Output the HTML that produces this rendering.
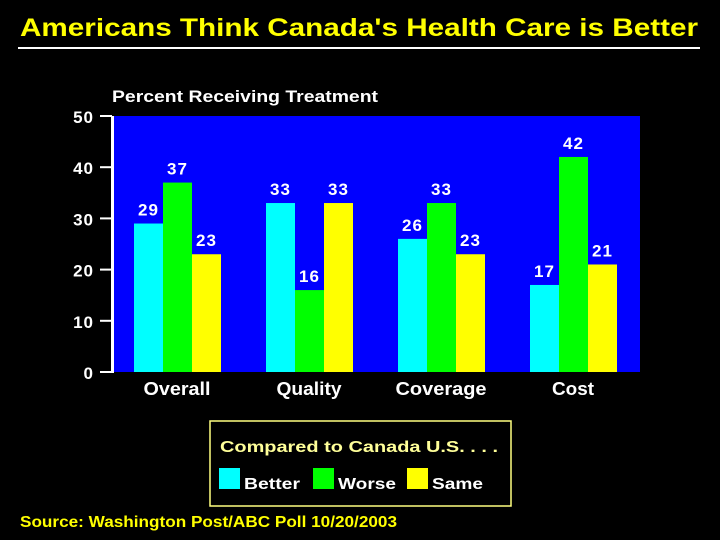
<!DOCTYPE html>
<html><head><meta charset="utf-8"><style>
body{margin:0;background:#000;width:720px;height:540px;overflow:hidden}
svg{display:block}
text{font-family:"Liberation Sans",sans-serif;font-weight:bold}
</style></head><body>
<svg id="c" width="720" height="540">
<text x="20" y="36" fill="#ffff00" font-size="25" textLength="678" lengthAdjust="spacingAndGlyphs">Americans Think Canada's Health Care is Better</text>
<rect x="18" y="47" width="682" height="2" fill="#fff"/>
<text x="112" y="102" fill="#fff" font-size="17" textLength="266" lengthAdjust="spacingAndGlyphs">Percent Receiving Treatment</text>
<rect x="114" y="116" width="526" height="256" fill="#0000ff"/>
<rect x="111" y="116" width="3" height="257" fill="#fff"/>
<g id="bars"></g>
<rect x="210" y="421" width="301" height="85" fill="none" stroke="#ffff80" stroke-width="1.5"/>
<text x="220" y="452" fill="#ffff99" font-size="16" textLength="278" lengthAdjust="spacingAndGlyphs">Compared to Canada U.S. . . .</text>
<rect x="219" y="468" width="21" height="21" fill="#00ffff"/>
<text x="244" y="489" fill="#fff" font-size="16" textLength="56" lengthAdjust="spacingAndGlyphs">Better</text>
<rect x="313" y="468" width="21" height="21" fill="#00ff00"/>
<text x="338" y="489" fill="#fff" font-size="16" textLength="58" lengthAdjust="spacingAndGlyphs">Worse</text>
<rect x="407" y="468" width="21" height="21" fill="#ffff00"/>
<text x="432" y="489" fill="#fff" font-size="16" textLength="51" lengthAdjust="spacingAndGlyphs">Same</text>
<text x="20" y="527" fill="#ffff00" font-size="16" textLength="377" lengthAdjust="spacingAndGlyphs">Source: Washington Post/ABC Poll 10/20/2003</text>
</svg>
<script>
const categories=["Overall","Quality","Coverage","Cost"];
const better=[29,33,26,17];
const worse=[37,16,33,42];
const same=[23,33,23,21];
const yTicks=[0,10,20,30,40,50];
const catWidths=[67,65,91,42];
const NS="http://www.w3.org/2000/svg";
const svg=document.getElementById('c');
const g=document.getElementById('bars');
function y(v){return 372-v*5.12;}
function x(i){return 177+i*132;}
function mk(t,a,parent){const e=document.createElementNS(NS,t);for(const k in a)e.setAttribute(k,a[k]);(parent||svg).appendChild(e);return e;}
yTicks.forEach(v=>{
  const t=mk('rect',{x:100,y:y(v)-1,width:12,height:2,fill:'#fff'});
  
  
  const l=mk('text',{x:94,y:y(v)+7,fill:'#fff','font-size':17,'text-anchor':'end','letter-spacing':1});
  l.textContent=v;
  
  
});
const series=[[better,'#00ffff','better'],[worse,'#00ff00','worse'],[same,'#ffff00','same']];
categories.forEach((c,i)=>{
  series.forEach((s,j)=>{
    const v=s[0][i];const bx=x(i)-43+j*29;
    const r=mk('rect',{x:bx,y:y(v),width:29,height:372-y(v),fill:s[1]},g);
    
    
    const lt=mk('text',{x:bx+14.5,y:y(v)-8,fill:'#fff','font-size':17,'text-anchor':'middle','letter-spacing':1});
    lt.textContent=v;
    
    
  });
  const cl=mk('text',{x:x(i)-catWidths[i]/2,y:395,fill:'#fff','font-size':18,textLength:catWidths[i],lengthAdjust:'spacingAndGlyphs'});
  cl.textContent=c;
  
  
});
</script>
</body></html>
